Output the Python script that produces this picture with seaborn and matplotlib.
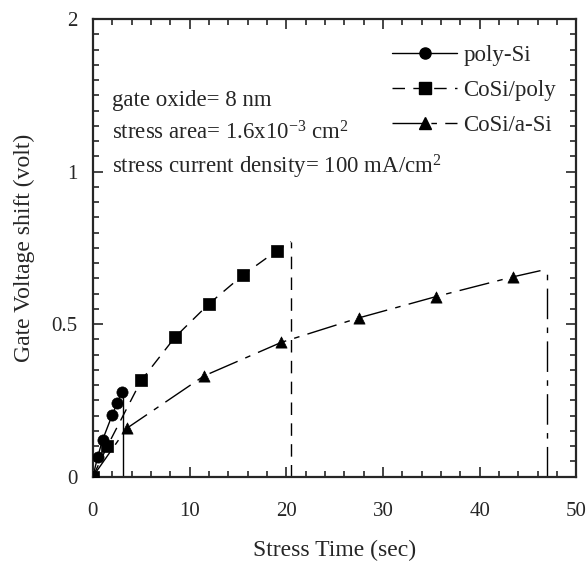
import matplotlib
matplotlib.use("Agg")
import matplotlib.pyplot as plt
from matplotlib.lines import Line2D
from matplotlib.ticker import MultipleLocator
import pandas as pd
import seaborn as sns


# stress time (sec) and gate voltage shift (volt) for each gate stack
poly_t = [0, 0.5, 1, 2, 2.5, 3]
poly_v = [0, 0.065, 0.12, 0.202, 0.24, 0.278]

cosi_poly_t = [0, 1.5, 5, 8.5, 12, 15.5, 19]
cosi_poly_v = [0, 0.10, 0.315, 0.457, 0.566, 0.66, 0.74]

cosi_asi_t = [0, 3.5, 11.5, 19.5, 27.5, 35.5, 43.5]
cosi_asi_v = [0, 0.158, 0.33, 0.44, 0.52, 0.59, 0.655]

# breakdown point where each curve stops
breakdown_t = [3.1, 20.5, 47.0]
breakdown_v = [0.29, 0.77, 0.68]

series_names = ["poly-Si", "CoSi/poly", "CoSi/a-Si"]
y_tick_values = [0, 0.5, 1, 1.5]
y_tick_labels = ["0", "0.5", "1", "2"]


sns.set_style("ticks")
plt.rcParams["font.family"] = ["Liberation Serif", "DejaVu Serif"]
plt.rcParams["mathtext.default"] = "regular"

fig = plt.figure(figsize=(5.88, 5.63), dpi=100)
ax = fig.add_axes([0.158, 0.1536, 0.822, 0.8126])

styles = [
    dict(marker="o", dashes=None),
    dict(marker="s", dashes=(9, 6)),
    dict(marker="^", dashes=(22, 6, 4, 6)),
]
all_t = [poly_t, cosi_poly_t, cosi_asi_t]
all_v = [poly_v, cosi_poly_v, cosi_asi_v]

for i in range(3):
    line_df = pd.DataFrame({
        "t": all_t[i] + [breakdown_t[i]],
        "v": all_v[i] + [breakdown_v[i]],
    })
    ls = "-" if styles[i]["dashes"] is None else (0, styles[i]["dashes"])
    sns.lineplot(
        data=line_df, x="t", y="v", ax=ax, color="black",
        linewidth=1.0, linestyle=ls, sort=False, estimator=None
    )
    ax.vlines(breakdown_t[i], 0, breakdown_v[i], colors="black",
              linewidth=1.0, linestyle=ls)
    sns.scatterplot(
        x=all_t[i], y=all_v[i], ax=ax, color="black",
        marker=styles[i]["marker"], s=65, edgecolor="black",
        linewidth=0.5, zorder=5
    )

ax.set_xlim(0, 50)
ax.set_ylim(0, 1.5)

ax.xaxis.set_major_locator(MultipleLocator(10))
ax.xaxis.set_minor_locator(MultipleLocator(2))
ax.set_yticks(y_tick_values)
ax.set_yticklabels(y_tick_labels)
ax.yaxis.set_minor_locator(MultipleLocator(0.05))

ax.tick_params(which="both", direction="in", top=True, right=True,
               width=1.2, labelsize=15)
ax.tick_params(axis="x", pad=18)
ax.tick_params(axis="y", pad=11)
ax.tick_params(which="major", length=7)
ax.tick_params(which="minor", length=4)
for sp in ax.spines.values():
    sp.set_linewidth(1.6)

ax.set_xlabel("Stress Time (sec)", fontsize=17, labelpad=14)
ax.set_ylabel("Gate Voltage shift (volt)", fontsize=17, labelpad=12)

ax.text(2, 1.234, "gate oxide= 8 nm", fontsize=16.5, va="center")
ax.text(2, 1.126, "stress area= 1.6x10$^{-3}$ cm$^2$", fontsize=16.5,
        va="center")
ax.text(2, 1.015, "stress current density= 100 mA/cm$^2$", fontsize=16.5,
        va="center")

handles = []
for i in range(3):
    ls = "-" if styles[i]["dashes"] is None else (0, styles[i]["dashes"])
    handles.append(Line2D([], [], color="black", linewidth=1.0,
                          linestyle=ls, marker=styles[i]["marker"],
                          markersize=8))
ax.legend(handles, series_names, loc="upper left",
          bbox_to_anchor=(0.619, 0.943), frameon=False, fontsize=16.5,
          handlelength=2.85, handletextpad=0.26, labelspacing=0.6,
          borderaxespad=0, borderpad=0, numpoints=1)

fig.savefig("out.png", dpi=100)
